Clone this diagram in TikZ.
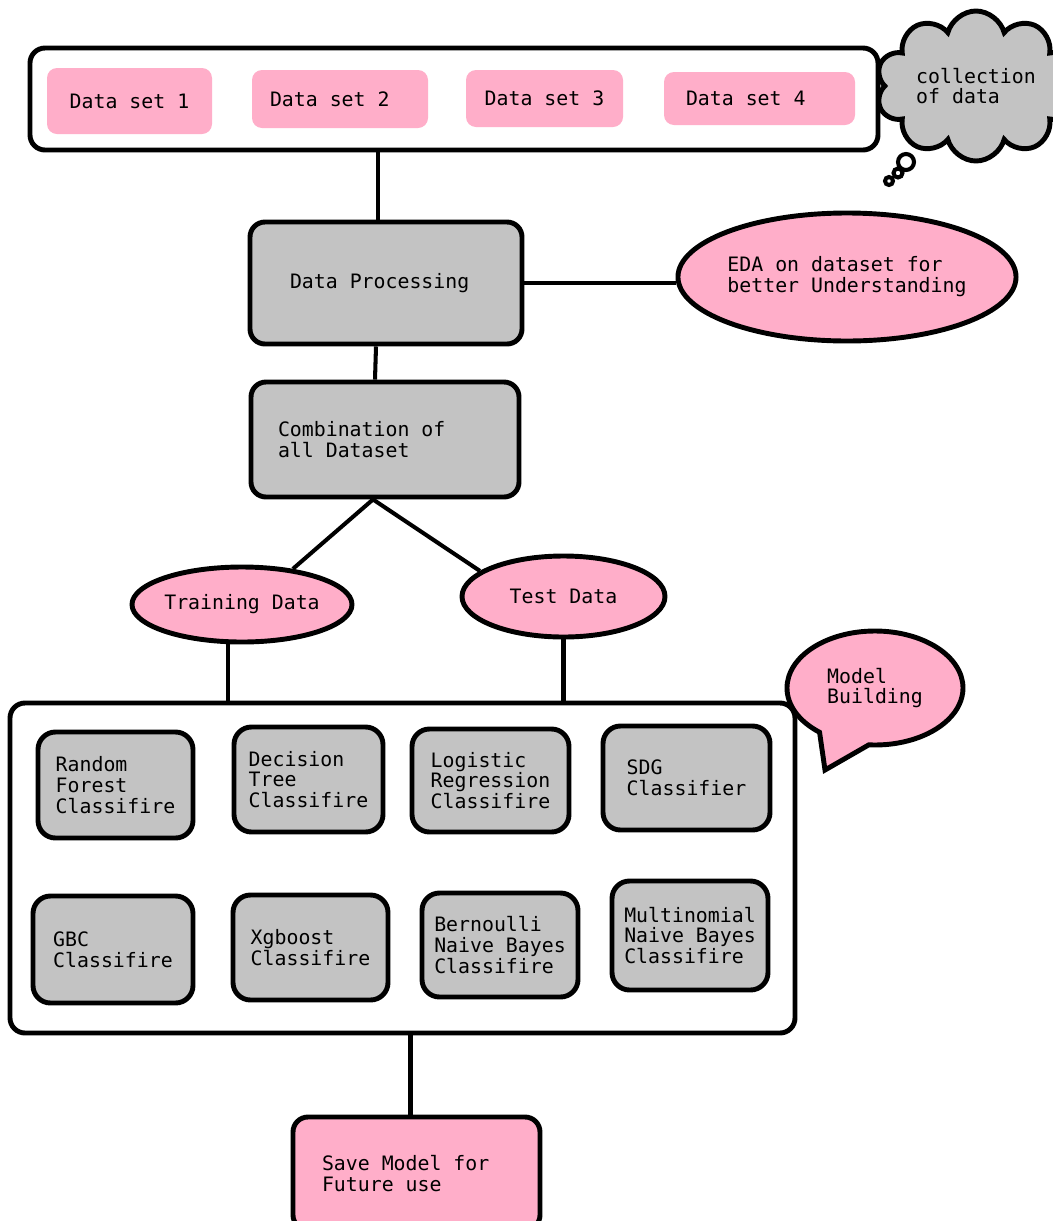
\documentclass[tikz,border=0pt]{standalone}
\usepackage{fontspec}
\setmonofont{DejaVu Sans Mono}[WordSpace={1,0,0}]
\usetikzlibrary{shapes.geometric}
\usetikzlibrary{shapes.symbols}
\usetikzlibrary{shapes.callouts}
\definecolor{pinkfill}{RGB}{255,174,201}
\definecolor{greyfill}{RGB}{195,195,195}

\begin{document}
\begin{tikzpicture}[x=0.02cm,y=-0.02cm,
  every node/.style={font=\ttfamily\fontsize{11.3}{11.9}\selectfont,align=left,
    execute at begin node={\spaceskip=0pt\xspaceskip=0pt\relax}},
  sz/.style 2 args={minimum width=#1*0.02cm,minimum height=#2*0.02cm,inner sep=0pt},
  frame/.style={draw,line width=2.8pt,rounded corners=0.3cm,fill=white},
  setbox/.style={fill=pinkfill,rounded corners=0.2cm},
  stage/.style={draw,line width=2.8pt,rounded corners=0.3cm,fill=greyfill},
  clf/.style={stage,rounded corners=0.35cm},
  oval/.style={ellipse,draw,line width=2.8pt,fill=pinkfill},
  link/.style={line width=2.3pt}]
\useasboundingbox (0,0) rectangle (1052,1221);

\node[frame,sz={848}{102}] (top) at (454,99) {};
\node[setbox,sz={165}{66}] (ds1) at (129.5,101) {Data set 1};
\node[setbox,sz={176}{58},text width=2.8cm] (ds2) at (340,99) {Data set 2};
\node[setbox,sz={157}{57}] (ds3) at (544.5,98.5) {Data set 3};
\node[setbox,sz={191}{53},text width=2.94cm] (ds4) at (759.5,98.5) {Data set 4};
\node[cloud,draw,line width=2.8pt,fill=greyfill,cloud puffs=10,cloud ignores aspect,sz={200}{150}] (collect) at (976,86) {collection\\of data};
\draw[line width=2.3pt,fill=white] (906,162) circle (8) (898,173) circle (4.5) (889,181) circle (4);

\node[stage,sz={272}{122},text width=3.84cm] (proc) at (386,283) {Data Processing};
\node[oval,sz={302}{128}] (eda) at (847,277) {EDA on dataset for\\better Understanding};
\node[stage,sz={268}{115},text width=4.28cm] (comb) at (385,439.5) {Combination of\\all Dataset};
\node[oval,sz={220}{75}] (train) at (242,604.5) {Training Data};
\node[oval,sz={203}{81}] (test) at (563.5,596.5) {Test Data};

\node[frame,sz={785}{330}] (models) at (402.5,868) {};
\node[ellipse callout,draw,line width=2.8pt,fill=pinkfill,sz={176}{114},callout absolute pointer={(825,770)},callout pointer arc=35] (build) at (875,688) {Model\\Building};
\node[clf,sz={155}{106}] (rf) at (115.5,785) {Random\\Forest\\Classifire};
\node[clf,sz={149}{105}] (dt) at (308.5,779.5) {Decision\\Tree\\Classifire};
\node[clf,sz={157}{103}] (lr) at (490.5,780.5) {Logistic\\Regression\\Classifire};
\node[clf,sz={167}{104}] (sdg) at (686.5,778) {SDG\\Classifier};
\node[clf,sz={160}{107}] (gbc) at (113,949.5) {GBC\\Classifire};
\node[clf,sz={155}{105}] (xgb) at (310.5,947.5) {Xgboost\\Classifire};
\node[clf,sz={156}{104}] (bnb) at (500,945) {Bernoulli\\Naive Bayes\\Classifire};
\node[clf,sz={156}{109}] (mnb) at (690,935.5) {Multinomial\\Naive Bayes\\Classifire};

\node[stage,fill=pinkfill,sz={247}{113},text width=3.78cm] (save) at (416.5,1173.5) {Save Model for\\Future use};

\draw[link] ([xshift=-8*0.02cm]proc.north) -- ([xshift=-8*0.02cm]proc.north |- top.south);
\draw[link] (proc.east) -- (eda.west |- proc.east);
\draw[link] ([xshift=-10*0.02cm]proc.south) -- ([xshift=-10*0.02cm]comb.north);
\draw[link] (train.35) -- ([xshift=-12*0.02cm]comb.south) -- (test.163);
\draw[link] ([xshift=-14*0.02cm]train.south) -- ([xshift=-14*0.02cm]train.south |- models.north);
\draw[link] (test.south) -- (test.south |- models.north);
\draw[link] ([xshift=-6*0.02cm]save.north) -- ([xshift=-6*0.02cm]save.north |- models.south);
\end{tikzpicture}
\end{document}
